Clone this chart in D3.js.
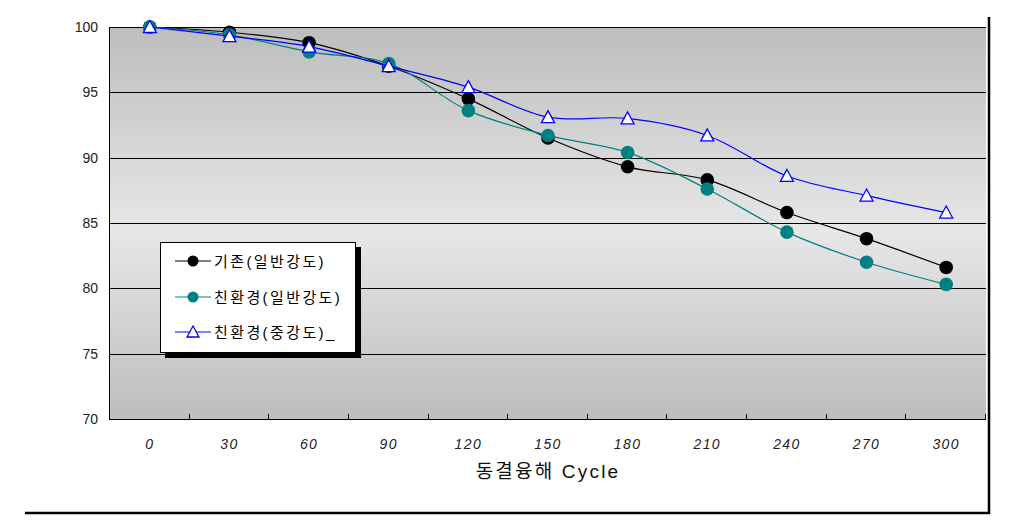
<!DOCTYPE html>
<html>
<head>
<meta charset="utf-8">
<script src="https://cdn.jsdelivr.net/npm/d3@7"></script>
<style>
  html, body { margin: 0; padding: 0; background: #fff; }
  svg { display: block; }
  text { font-family: "Liberation Sans", Arial, "Noto Sans CJK KR", sans-serif; }
  .kr { font-family: "Liberation Sans", "Noto Sans CJK KR", sans-serif; }
</style>
</head>
<body>
<svg id="chart" width="1009" height="530"></svg>
<script>
// ---- Data ----
const cycles = [0, 30, 60, 90, 120, 150, 180, 210, 240, 270, 300];
const existingNormal = [100, 99.6, 98.8, 97.0, 94.5, 91.5, 89.3, 88.3, 85.8, 83.8, 81.6];
const ecoNormal = [100, 99.4, 98.1, 97.2, 93.6, 91.7, 90.4, 87.6, 84.3, 82.0, 80.3];
const ecoMedium = [100, 99.3, 98.5, 97.0, 95.4, 93.1, 93.0, 91.7, 88.6, 87.1, 85.8];
const yTicks = [70, 75, 80, 85, 90, 95, 100];
const seriesNames = ["기존(일반강도)", "친환경(일반강도)", "친환경(중강도)_"];
const xTitle = "동결융해 Cycle";

// ---- Layout ----
const plot = { left: 110, right: 986, top: 27, bottom: 419 };

const svg = d3.select("#chart");

const x = d3.scaleBand().domain(cycles).range([plot.left, plot.right]).padding(0);
const y = d3.scaleLinear().domain([70, 100]).range([plot.bottom, plot.top]);
const cx = d => x(d) + x.bandwidth() / 2;

// ---- Background gradient ----
const grad = svg.append("defs").append("linearGradient")
  .attr("id", "bg").attr("x1", 0).attr("y1", 0).attr("x2", 0).attr("y2", 1);
grad.append("stop").attr("offset", "0%").attr("stop-color", "#bdbdbd");
grad.append("stop").attr("offset", "52%").attr("stop-color", "#e7e7e7");
grad.append("stop").attr("offset", "100%").attr("stop-color", "#bdbdbd");

svg.append("rect")
  .attr("x", plot.left).attr("y", plot.top)
  .attr("width", plot.right - plot.left).attr("height", plot.bottom - plot.top)
  .attr("fill", "url(#bg)");

// ---- Grid lines ----
svg.append("g").selectAll("line").data(yTicks.filter(v => v > 70))
  .join("line")
  .attr("x1", plot.left).attr("x2", plot.right)
  .attr("y1", d => Math.round(y(d)) + 0.5).attr("y2", d => Math.round(y(d)) + 0.5)
  .attr("stroke", "#000").attr("stroke-width", 1);

// ---- Axes ----
svg.append("line")
  .attr("x1", plot.left - 0.5).attr("x2", plot.left - 0.5)
  .attr("y1", plot.top).attr("y2", plot.bottom + 1)
  .attr("stroke", "#000");
svg.append("line")
  .attr("x1", plot.left - 1).attr("x2", plot.right)
  .attr("y1", plot.bottom + 0.5).attr("y2", plot.bottom + 0.5)
  .attr("stroke", "#000");

// tick marks between categories, pointing up into the plot
const tickPos = cycles.map(c => x(c)).concat([plot.right]).slice(1);
svg.append("g").selectAll("line").data(tickPos)
  .join("line")
  .attr("x1", d => Math.round(d) - 0.5).attr("x2", d => Math.round(d) - 0.5)
  .attr("y1", plot.bottom - 5).attr("y2", plot.bottom)
  .attr("stroke", "#000");

svg.append("g").selectAll("text").data(yTicks)
  .join("text")
  .attr("x", 98).attr("y", d => y(d) + 5)
  .attr("text-anchor", "end")
  .attr("font-size", 14).attr("fill", "#222")
  .text(d => d);

svg.append("g").selectAll("text").data(cycles)
  .join("text")
  .attr("x", d => cx(d)).attr("y", 449)
  .attr("text-anchor", "middle")
  .attr("font-size", 14).attr("font-style", "italic")
  .attr("letter-spacing", 1.4).attr("fill", "#222")
  .text(d => d);

svg.append("text")
  .attr("class", "kr")
  .attr("x", 548).attr("y", 478)
  .attr("text-anchor", "middle")
  .attr("font-size", 19).attr("letter-spacing", 2.2).attr("fill", "#111")
  .text(xTitle);

// ---- Series ----
const series = [
  { name: seriesNames[0], values: existingNormal, color: "#000000", marker: "circle", fill: "#000000" },
  { name: seriesNames[1], values: ecoNormal, color: "#008080", marker: "circle", fill: "#008080" },
  { name: seriesNames[2], values: ecoMedium, color: "#0000ff", marker: "triangle", fill: "#ffffff" }
];

const line = d3.line()
  .x((d, i) => cx(cycles[i]))
  .y(d => y(d))
  .curve(d3.curveCatmullRom.alpha(0.5));

function drawMarker(sel, s) {
  if (s.marker === "circle") {
    sel.append("circle").attr("r", 6.8).attr("fill", s.fill);
  } else {
    sel.append("path")
      .attr("d", "M0,-6.5L6.5,5.5L-6.5,5.5Z")
      .attr("fill", s.fill).attr("stroke", s.color).attr("stroke-width", 1.3);
  }
}

series.forEach(s => {
  svg.append("path")
    .datum(s.values)
    .attr("d", line)
    .attr("fill", "none")
    .attr("stroke", s.color)
    .attr("stroke-width", 1.2);

  svg.append("g").selectAll("g").data(s.values)
    .join("g")
    .attr("transform", (d, i) => `translate(${cx(cycles[i])},${y(d)})`)
    .each(function () { drawMarker(d3.select(this), s); });
});

// ---- Legend ----
const legend = svg.append("g");
legend.append("rect")
  .attr("x", 165).attr("y", 247).attr("width", 196).attr("height", 111)
  .attr("fill", "#000");
legend.append("rect")
  .attr("x", 160.5).attr("y", 242.5).attr("width", 195).attr("height", 110)
  .attr("fill", "#fff").attr("stroke", "#000");

const legendRows = [261, 297, 332];
series.forEach((s, i) => {
  const row = legend.append("g").attr("transform", `translate(0,${legendRows[i]})`);
  row.append("line")
    .attr("x1", 175).attr("x2", 211).attr("y1", 0).attr("y2", 0)
    .attr("stroke", s.color).attr("stroke-width", 1.2);
  const m = row.append("g").attr("transform", "translate(193,0)");
  if (s.marker === "circle") {
    m.append("circle").attr("r", 5.5).attr("fill", s.fill);
  } else {
    m.append("path")
      .attr("d", "M0,-6L6,5L-6,5Z")
      .attr("fill", s.fill).attr("stroke", s.color).attr("stroke-width", 1.3);
  }
  row.append("text")
    .attr("class", "kr")
    .attr("x", 214).attr("y", 6)
    .attr("font-size", 15).attr("letter-spacing", 2.4).attr("fill", "#000")
    .text(s.name);
});

// ---- Outer frame (right and bottom) ----
svg.append("line")
  .attr("x1", 989).attr("x2", 989).attr("y1", 17).attr("y2", 514)
  .attr("stroke", "#000").attr("stroke-width", 2.5);
svg.append("line")
  .attr("x1", 25).attr("x2", 990).attr("y1", 513).attr("y2", 513)
  .attr("stroke", "#000").attr("stroke-width", 2.5);
</script>
</body>
</html>
